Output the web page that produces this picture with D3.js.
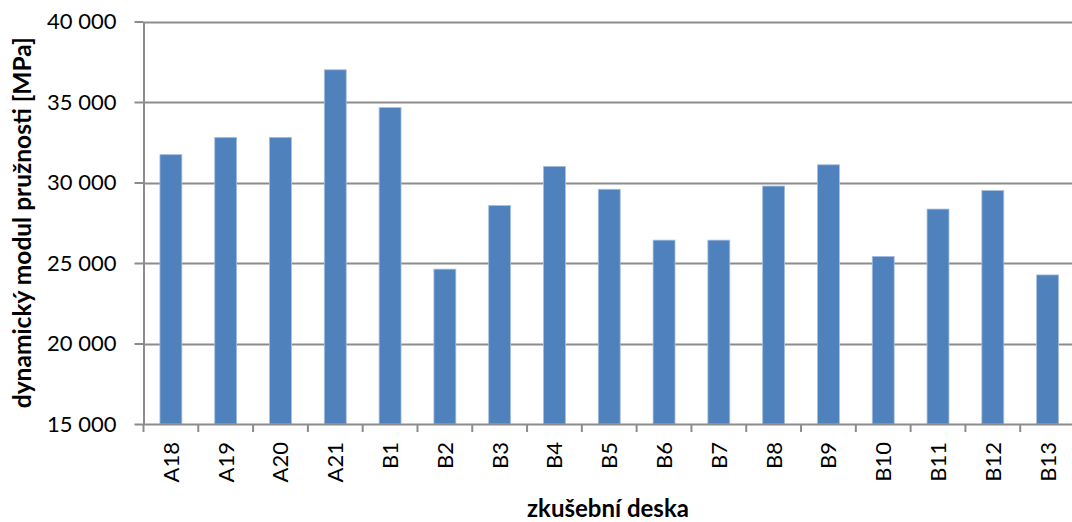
<!DOCTYPE html>
<html>
<head>
<meta charset="utf-8">
<script src="https://cdn.jsdelivr.net/npm/d3@7/dist/d3.min.js"></script>
<style>
  html, body { margin: 0; padding: 0; background: #fff; }
  svg { display: block; font-family: Lato, "Open Sans", sans-serif; }
</style>
</head>
<body>
<svg id="chart" width="1072" height="522"></svg>
<script>
// Test boards and their measured dynamic modulus of elasticity (MPa)
const boards = ["A18", "A19", "A20", "A21", "B1", "B2", "B3", "B4", "B5", "B6",
                "B7", "B8", "B9", "B10", "B11", "B12", "B13"];
const modulus = [31730, 32800, 32800, 37000, 34650, 24620, 28570, 31000, 29580,
                 26420, 26420, 29780, 31100, 25410, 28350, 29500, 24260];
const yTicks = [15000, 20000, 25000, 30000, 35000, 40000];

const xLabel = "zkušební deska";
const yLabel = "dynamický modul pružnosti [MPa]";

const svg = d3.select("#chart");
const plot = { left: 143.5, right: 1075, top: 21.5, bottom: 424 };

const x = d3.scaleBand()
  .domain(boards)
  .range([plot.left, plot.right])
  .paddingInner(0.6)
  .paddingOuter(0.3);

const y = d3.scaleLinear()
  .domain([15000, 40000])
  .range([plot.bottom, plot.top]);

const fmt = v => d3.format(",")(v).replace(/,/g, " ");

// horizontal gridlines
svg.append("g")
  .selectAll("line")
  .data(yTicks.slice(1))
  .join("line")
  .attr("x1", plot.left)
  .attr("x2", plot.right)
  .attr("y1", d => Math.round(y(d)) + 0.5)
  .attr("y2", d => Math.round(y(d)) + 0.5)
  .attr("stroke", "#8c8c8c")
  .attr("stroke-width", 2);

// bars
svg.append("g")
  .selectAll("rect")
  .data(boards)
  .join("rect")
  .attr("x", d => x(d))
  .attr("width", x.bandwidth())
  .attr("y", (d, i) => y(modulus[i]))
  .attr("height", (d, i) => plot.bottom - y(modulus[i]))
  .attr("fill", "#4f81bd")
  .attr("stroke", "#a7bfde")
  .attr("stroke-width", 0.8);

// y axis
const yAxis = svg.append("g")
  .attr("transform", `translate(${plot.left},0)`)
  .call(d3.axisLeft(y).tickValues(yTicks).tickFormat(fmt).tickSize(9).tickSizeOuter(0).tickPadding(18));
yAxis.select(".domain").attr("stroke", "#8c8c8c").attr("stroke-width", 2);
yAxis.selectAll(".tick line").attr("stroke", "#8c8c8c").attr("stroke-width", 2);
yAxis.selectAll(".tick text")
  .attr("fill", "#000")
  .style("font-size", "22px")
  .style("font-family", "Lato, sans-serif");

// x axis: tick marks sit on the band boundaries
const xAxisG = svg.append("g");
xAxisG.append("line")
  .attr("x1", plot.left).attr("x2", plot.right)
  .attr("y1", plot.bottom + 0.5).attr("y2", plot.bottom + 0.5)
  .attr("stroke", "#8c8c8c").attr("stroke-width", 2);
const bounds = d3.range(boards.length + 1).map(i => plot.left + i * (plot.right - plot.left) / boards.length);
xAxisG.selectAll("line.tk")
  .data(bounds)
  .join("line")
  .attr("class", "tk")
  .attr("x1", d => d).attr("x2", d => d)
  .attr("y1", plot.bottom).attr("y2", plot.bottom + 8)
  .attr("stroke", "#8c8c8c").attr("stroke-width", 2);
xAxisG.selectAll("text")
  .data(boards)
  .join("text")
  .attr("transform", d => `translate(${x(d) + x.bandwidth() / 2 + 8},${plot.bottom + 18}) rotate(-90)`)
  .attr("text-anchor", "end")
  .style("font-size", "22px")
  .attr("fill", "#000")
  .text(d => d);

// axis titles
svg.append("text")
  .attr("x", 608)
  .attr("y", 517)
  .attr("text-anchor", "middle")
  .style("font-size", "24px")
  .style("font-weight", "bold")
  .text(xLabel);

svg.append("text")
  .attr("transform", `translate(31,${(plot.top + plot.bottom) / 2}) rotate(-90)`)
  .attr("text-anchor", "middle")
  .style("font-size", "24.5px")
  .style("font-weight", "bold")
  .text(yLabel);
</script>
</body>
</html>
